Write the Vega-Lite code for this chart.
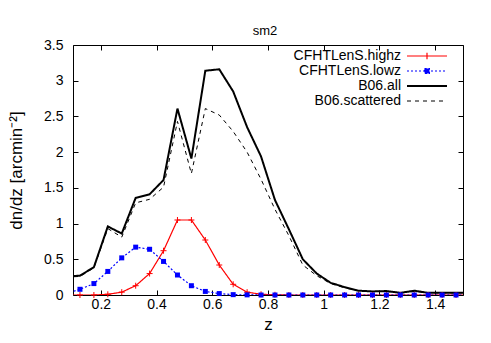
{
  "$schema": "https://vega.github.io/schema/vega-lite/v6.json",
  "width": 390,
  "height": 250,
  "autosize": {"type": "none"},
  "padding": {"left": 73, "top": 45, "right": 28, "bottom": 48},
  "background": "white",
  "config": {
    "view": {"stroke": "black", "strokeWidth": 1},
    "font": "Liberation Sans"
  },
  "title": {"text": "sm2", "font": "Liberation Sans", "fontSize": 13, "fontWeight": "normal", "color": "black", "baseline": "alphabetic", "offset": 18, "dy": 28, "dx": -3},
  "datasets": {
    "d": [
      {"z":0.075,"s":"CFHTLenS.highz","v":0},{"z":0.125,"s":"CFHTLenS.highz","v":0},{"z":0.175,"s":"CFHTLenS.highz","v":0},{"z":0.225,"s":"CFHTLenS.highz","v":0.01},{"z":0.275,"s":"CFHTLenS.highz","v":0.04},{"z":0.325,"s":"CFHTLenS.highz","v":0.13},{"z":0.375,"s":"CFHTLenS.highz","v":0.3},{"z":0.425,"s":"CFHTLenS.highz","v":0.62},{"z":0.475,"s":"CFHTLenS.highz","v":1.05},{"z":0.525,"s":"CFHTLenS.highz","v":1.05},{"z":0.575,"s":"CFHTLenS.highz","v":0.77},{"z":0.625,"s":"CFHTLenS.highz","v":0.42},{"z":0.675,"s":"CFHTLenS.highz","v":0.15},{"z":0.725,"s":"CFHTLenS.highz","v":0.04},{"z":0.775,"s":"CFHTLenS.highz","v":0.01},{"z":0.825,"s":"CFHTLenS.highz","v":0.003},{"z":0.875,"s":"CFHTLenS.highz","v":0},{"z":0.925,"s":"CFHTLenS.highz","v":0},{"z":0.975,"s":"CFHTLenS.highz","v":0},{"z":1.025,"s":"CFHTLenS.highz","v":0},{"z":1.075,"s":"CFHTLenS.highz","v":0},{"z":1.125,"s":"CFHTLenS.highz","v":0},{"z":1.175,"s":"CFHTLenS.highz","v":0},{"z":1.225,"s":"CFHTLenS.highz","v":0},{"z":1.275,"s":"CFHTLenS.highz","v":0},{"z":1.325,"s":"CFHTLenS.highz","v":0},{"z":1.375,"s":"CFHTLenS.highz","v":0},{"z":1.425,"s":"CFHTLenS.highz","v":0},{"z":1.475,"s":"CFHTLenS.highz","v":0},{"z":1.525,"s":"CFHTLenS.highz","v":0},
      {"z":0.075,"s":"CFHTLenS.lowz","v":0.02},{"z":0.125,"s":"CFHTLenS.lowz","v":0.08},{"z":0.175,"s":"CFHTLenS.lowz","v":0.16},{"z":0.225,"s":"CFHTLenS.lowz","v":0.33},{"z":0.275,"s":"CFHTLenS.lowz","v":0.52},{"z":0.325,"s":"CFHTLenS.lowz","v":0.67},{"z":0.375,"s":"CFHTLenS.lowz","v":0.64},{"z":0.425,"s":"CFHTLenS.lowz","v":0.47},{"z":0.475,"s":"CFHTLenS.lowz","v":0.28},{"z":0.525,"s":"CFHTLenS.lowz","v":0.13},{"z":0.575,"s":"CFHTLenS.lowz","v":0.05},{"z":0.625,"s":"CFHTLenS.lowz","v":0.02},{"z":0.675,"s":"CFHTLenS.lowz","v":0.005},{"z":0.725,"s":"CFHTLenS.lowz","v":0.002},{"z":0.775,"s":"CFHTLenS.lowz","v":0},{"z":0.825,"s":"CFHTLenS.lowz","v":0},{"z":0.875,"s":"CFHTLenS.lowz","v":0},{"z":0.925,"s":"CFHTLenS.lowz","v":0},{"z":0.975,"s":"CFHTLenS.lowz","v":0},{"z":1.025,"s":"CFHTLenS.lowz","v":0},{"z":1.075,"s":"CFHTLenS.lowz","v":0},{"z":1.125,"s":"CFHTLenS.lowz","v":0},{"z":1.175,"s":"CFHTLenS.lowz","v":0},{"z":1.225,"s":"CFHTLenS.lowz","v":0},{"z":1.275,"s":"CFHTLenS.lowz","v":0},{"z":1.325,"s":"CFHTLenS.lowz","v":0},{"z":1.375,"s":"CFHTLenS.lowz","v":0},{"z":1.425,"s":"CFHTLenS.lowz","v":0},{"z":1.475,"s":"CFHTLenS.lowz","v":0},{"z":1.525,"s":"CFHTLenS.lowz","v":0},
      {"z":0.075,"s":"B06.all","v":0.26},{"z":0.125,"s":"B06.all","v":0.27},{"z":0.175,"s":"B06.all","v":0.39},{"z":0.225,"s":"B06.all","v":0.96},{"z":0.275,"s":"B06.all","v":0.86},{"z":0.325,"s":"B06.all","v":1.36},{"z":0.375,"s":"B06.all","v":1.41},{"z":0.425,"s":"B06.all","v":1.61},{"z":0.475,"s":"B06.all","v":2.61},{"z":0.525,"s":"B06.all","v":1.91},{"z":0.575,"s":"B06.all","v":3.14},{"z":0.625,"s":"B06.all","v":3.16},{"z":0.675,"s":"B06.all","v":2.85},{"z":0.725,"s":"B06.all","v":2.35},{"z":0.775,"s":"B06.all","v":1.94},{"z":0.825,"s":"B06.all","v":1.33},{"z":0.875,"s":"B06.all","v":0.92},{"z":0.925,"s":"B06.all","v":0.5},{"z":0.975,"s":"B06.all","v":0.3},{"z":1.025,"s":"B06.all","v":0.17},{"z":1.075,"s":"B06.all","v":0.11},{"z":1.125,"s":"B06.all","v":0.06},{"z":1.175,"s":"B06.all","v":0.05},{"z":1.225,"s":"B06.all","v":0.055},{"z":1.275,"s":"B06.all","v":0.03},{"z":1.325,"s":"B06.all","v":0.06},{"z":1.375,"s":"B06.all","v":0.03},{"z":1.425,"s":"B06.all","v":0.03},{"z":1.475,"s":"B06.all","v":0.03},{"z":1.525,"s":"B06.all","v":0.03},
      {"z":0.075,"s":"B06.scattered","v":0.25},{"z":0.125,"s":"B06.scattered","v":0.26},{"z":0.175,"s":"B06.scattered","v":0.38},{"z":0.225,"s":"B06.scattered","v":0.93},{"z":0.275,"s":"B06.scattered","v":0.81},{"z":0.325,"s":"B06.scattered","v":1.29},{"z":0.375,"s":"B06.scattered","v":1.34},{"z":0.425,"s":"B06.scattered","v":1.51},{"z":0.475,"s":"B06.scattered","v":2.43},{"z":0.525,"s":"B06.scattered","v":1.7},{"z":0.575,"s":"B06.scattered","v":2.61},{"z":0.625,"s":"B06.scattered","v":2.52},{"z":0.675,"s":"B06.scattered","v":2.29},{"z":0.725,"s":"B06.scattered","v":2.0},{"z":0.775,"s":"B06.scattered","v":1.62},{"z":0.825,"s":"B06.scattered","v":1.2},{"z":0.875,"s":"B06.scattered","v":0.83},{"z":0.925,"s":"B06.scattered","v":0.42},{"z":0.975,"s":"B06.scattered","v":0.27},{"z":1.025,"s":"B06.scattered","v":0.16},{"z":1.075,"s":"B06.scattered","v":0.1},{"z":1.125,"s":"B06.scattered","v":0.06},{"z":1.175,"s":"B06.scattered","v":0.05},{"z":1.225,"s":"B06.scattered","v":0.05},{"z":1.275,"s":"B06.scattered","v":0.03},{"z":1.325,"s":"B06.scattered","v":0.05},{"z":1.375,"s":"B06.scattered","v":0.03},{"z":1.425,"s":"B06.scattered","v":0.03},{"z":1.475,"s":"B06.scattered","v":0.03},{"z":1.525,"s":"B06.scattered","v":0.03}
    ]
  },
  "data": {"name": "d"},
  "resolve": {"axis": {"x": "independent", "y": "independent"}},
  "layer": [
    {
      "mark": {"type": "line", "clip": true},
      "encoding": {
        "x": {"field": "z", "type": "quantitative",
          "scale": {"domain": [0.1, 1.5], "nice": false, "zero": false},
          "axis": {"orient": "bottom", "values": [0.2,0.4,0.6,0.8,1,1.2,1.4], "format": "~g", "title": "z",
            "domain": false, "grid": false, "tickSize": -5, "tickColor": "black", "labelPadding": 7,
            "labelFont": "Liberation Sans", "labelFontSize": 14, "labelColor": "black",
            "titleFont": "Liberation Sans", "titleFontSize": 17, "titleFontWeight": "normal", "titleColor": "black",
            "titleX": 195, "titleY": 34, "titleBaseline": "alphabetic", "titleAlign": "center"}},
        "y": {"field": "v", "type": "quantitative",
          "scale": {"domain": [0, 3.5], "nice": false, "zero": false},
          "axis": {"orient": "left", "values": [0,0.5,1,1.5,2,2.5,3,3.5], "format": "~g", "title": "dn/dz [arcmin⁻²]",
            "domain": false, "grid": false, "tickSize": -5, "tickColor": "black", "labelPadding": 15,
            "labelFont": "Liberation Sans", "labelFontSize": 14, "labelColor": "black",
            "titleFont": "Liberation Sans", "titleFontSize": 17, "titleFontWeight": "normal", "titleColor": "black",
            "titleAngle": -90, "titleX": -57, "titleY": 125, "titleAlign": "center", "titleBaseline": "middle"}},
        "color": {"field": "s", "type": "nominal",
          "scale": {"domain": ["CFHTLenS.highz", "CFHTLenS.lowz", "B06.all", "B06.scattered"], "range": ["#ff0000", "#0000ff", "#000000", "#000000"]},
          "legend": {"orient": "none", "legendX": 347, "legendY": 4, "title": null, "padding": 0,
            "labelFont": "Liberation Sans", "labelFontSize": 14, "labelColor": "black",
            "labelAlign": "right", "labelOffset": -33, "symbolSize": 64, "rowPadding": 1,
            "encode": {"symbols": {"update": {
              "shape": {"signal": "datum.value === 'CFHTLenS.highz' ? 'M-5,0H5M0,-0.8V0.8' : datum.value === 'CFHTLenS.lowz' ? 'M-5,0H5M-0.6,-0.6H0.6V0.6H-0.6Z' : 'M-5,0H5'"},
              "strokeDash": {"signal": "datum.value === 'CFHTLenS.lowz' ? [2,2] : datum.value === 'B06.scattered' ? [4,4] : [1,0]"},
              "fill": {"signal": "datum.value === 'CFHTLenS.lowz' ? '#0000ff' : 'transparent'"},
              "strokeWidth": {"signal": "datum.value === 'B06.all' ? 2 : datum.value === 'B06.scattered' ? 1 : 1.2"}
            }}}}},
        "strokeDash": {"field": "s", "type": "nominal",
          "scale": {"domain": ["CFHTLenS.highz", "CFHTLenS.lowz", "B06.all", "B06.scattered"], "range": [[1,0],[2,2],[1,0],[4,4]]},
          "legend": null},
        "strokeWidth": {"condition": [{"test": "datum.s === 'B06.all'", "value": 2}, {"test": "datum.s === 'B06.scattered'", "value": 1}], "value": 1.2}
      }
    },
    {
      "transform": [{"filter": "datum.s === 'CFHTLenS.highz' && datum.z > 0.1 && datum.z < 1.5"}],
      "mark": {"type": "point", "shape": "M-1,0H1M0,-1V1", "size": 36, "filled": false, "stroke": "#ff0000", "strokeWidth": 1, "opacity": 1},
      "encoding": {
        "x": {"field": "z", "type": "quantitative",
          "axis": {"orient": "top", "values": [0.2,0.4,0.6,0.8,1,1.2,1.4], "labels": false, "title": null, "domain": false, "grid": false, "tickSize": -5, "tickColor": "black"}},
        "y": {"field": "v", "type": "quantitative",
          "axis": {"orient": "right", "values": [0,0.5,1,1.5,2,2.5,3,3.5], "labels": false, "title": null, "domain": false, "grid": false, "tickSize": -5, "tickColor": "black"}}
      }
    },
    {
      "transform": [{"filter": "datum.s === 'CFHTLenS.lowz' && datum.z > 0.1 && datum.z < 1.5"}],
      "mark": {"type": "point", "shape": "square", "size": 25, "filled": true, "fill": "#0000ff", "opacity": 1},
      "encoding": {
        "x": {"field": "z", "type": "quantitative", "axis": null},
        "y": {"field": "v", "type": "quantitative", "axis": null}
      }
    }
  ]
}
